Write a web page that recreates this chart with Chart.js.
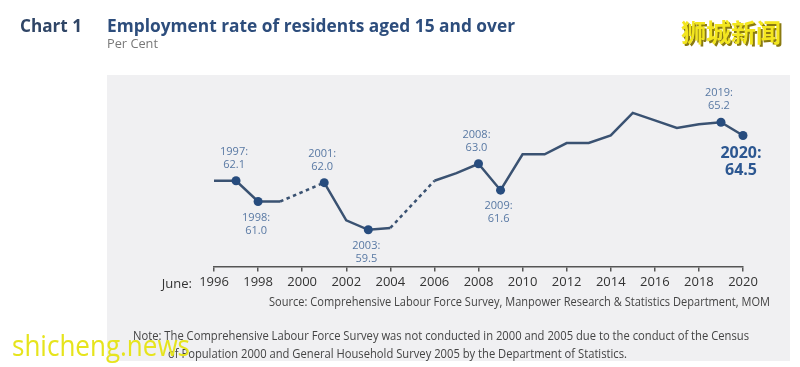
<!DOCTYPE html>
<html>
<head>
<meta charset="utf-8">
<script src="https://cdn.jsdelivr.net/npm/chart.js@4/dist/chart.umd.min.js"></script>
<style>
  html, body { margin: 0; padding: 0; background: #fff; }
  #chart { display: block; }
</style>
</head>
<body>
<canvas id="chart" width="800" height="367"></canvas>
<script>
// survey years (2000 and 2005 were not surveyed)
const years = [1996, 1997, 1998, 1999, 2000, 2001, 2002, 2003, 2004, 2005, 2006, 2007, 2008,
  2009, 2010, 2011, 2012, 2013, 2014, 2015, 2016, 2017, 2018, 2019, 2020];
const employment_rate = [62.1, 62.1, 61.0, 61.0, null, 62.0, 60.0, 59.5, 59.6, null, 62.1, 62.5, 63.0,
  61.6, 63.5, 63.5, 64.1, 64.1, 64.5, 65.7, 65.3, 64.9, 65.1, 65.2, 64.5];

// labelled points
const annotated_years = [1997, 1998, 2001, 2003, 2008, 2009, 2019, 2020];
const annotation_below = [false, true, false, true, false, true, false, true];

const title_text = 'Employment rate of residents aged 15 and over';
const source_text = 'Source: Comprehensive Labour Force Survey, Manpower Research & Statistics Department, MOM';
const note_lines = [
  'Note: The Comprehensive Labour Force Survey was not conducted in 2000 and 2005 due to the conduct of the Census',
  'of Population 2000 and General Household Survey 2005 by the Department of Statistics.'
];

const FONT = '"Open Sans", "Noto Sans", sans-serif';

// draw text squeezed/stretched to a given width
const draw_fit = (ctx, text, x, y, width, font, color) => {
  ctx.save();
  ctx.font = font;
  ctx.fillStyle = color;
  ctx.textAlign = 'left';
  ctx.textBaseline = 'middle';
  const w = ctx.measureText(text).width;
  ctx.translate(x, y);
  ctx.scale(width / w, 1);
  ctx.fillText(text, 0, 0);
  ctx.restore();
};

const chrome_plugin = {
  id: 'chrome',
  beforeDraw: (chart) => {
    const { ctx } = chart;
    ctx.save();
    ctx.fillStyle = '#ffffff';
    ctx.fillRect(0, 0, chart.width, chart.height);
    ctx.fillStyle = '#f0f0f2';
    ctx.fillRect(107, 75, 683, 286);
    ctx.restore();

    draw_fit(ctx, 'Chart 1', 20, 27, 62, `bold 18px ${FONT}`, '#2f4566');
    draw_fit(ctx, title_text, 107, 27, 408, `bold 18px ${FONT}`, '#2d4d7c');
    draw_fit(ctx, 'Per Cent', 107, 45, 51, `12px ${FONT}`, '#777777');
    draw_fit(ctx, source_text, 269, 303, 501, `12px ${FONT}`, '#444444');
    draw_fit(ctx, note_lines[0], 133, 337, 616, `12px ${FONT}`, '#444444');
    draw_fit(ctx, note_lines[1], 168, 355, 459, `12px ${FONT}`, '#444444');
  },
  afterDatasetsDraw: (chart) => {
    const { ctx } = chart;
    const meta = chart.getDatasetMeta(0);
    const x_scale = chart.scales.x;

    // axis prefix
    ctx.save();
    ctx.font = `13px ${FONT}`;
    ctx.fillStyle = '#333333';
    ctx.textAlign = 'right';
    ctx.textBaseline = 'middle';
    ctx.fillText('June:', x_scale.left - 22, 284);
    ctx.restore();

    annotated_years.forEach((year, i) => {
      const idx = years.indexOf(year);
      const pt = meta.data[idx];
      const value = employment_rate[idx].toFixed(1);
      const below = annotation_below[i];
      ctx.save();
      ctx.textAlign = 'center';
      ctx.textBaseline = 'middle';
      if (year === 2020) {
        ctx.font = `bold 16px ${FONT}`;
        ctx.fillStyle = '#2c5791';
        ctx.fillText(`${year}:`, pt.x - 2, pt.y + 18);
        ctx.fillText(value, pt.x - 2, pt.y + 35);
      } else {
        ctx.font = `11px ${FONT}`;
        ctx.fillStyle = '#5878a3';
        const dy = below ? [16, 29] : [-29, -16];
        ctx.fillText(`${year}:`, pt.x - 2, pt.y + dy[0]);
        ctx.fillText(value, pt.x - 2, pt.y + dy[1]);
      }
      ctx.restore();
    });
  },
  afterDraw: (chart) => {
    const { ctx } = chart;
    // site watermarks
    ctx.save();
    ctx.textBaseline = 'middle';
    ctx.font = 'bold 25px "Noto Sans CJK SC"';
    ctx.fillStyle = '#8a7a10';
    ctx.fillText('狮城新闻', 683, 34);
    ctx.fillStyle = '#f3e61e';
    ctx.fillText('狮城新闻', 681, 32);
    ctx.restore();
    draw_fit(ctx, 'shicheng.news', 12, 347, 178, `30px ${FONT}`, '#e6e41c');
  }
};

const skipped = (ctx, value) => (ctx.p0.skip || ctx.p1.skip ? value : undefined);

const chart_data = years.map((year, i) => ({ x: year, y: employment_rate[i] }));

const ctx = document.getElementById('chart').getContext('2d');
const employment_chart = new Chart(ctx, {
  type: 'line',
  data: {
    datasets: [
      {
        data: chart_data,
        borderColor: '#3a5272',
        borderWidth: 2.5,
        spanGaps: true,
        tension: 0,
        clip: false,
        pointRadius: (c) => (annotated_years.includes(years[c.dataIndex]) ? 4.5 : 0),
        pointBackgroundColor: '#274c7e',
        pointBorderColor: '#274c7e',
        pointBorderWidth: 0,
        segment: {
          borderDash: (c) => skipped(c, [3.5, 3.5])
        }
      }
    ]
  },
  options: {
    responsive: false,
    animation: false,
    layout: {
      padding: { left: 214, right: 57, top: 90, bottom: 74 }
    },
    plugins: {
      legend: { display: false },
      tooltip: { enabled: false },
      title: { display: false }
    },
    scales: {
      x: {
        type: 'linear',
        min: 1996,
        max: 2020,
        border: { display: true, color: '#555555', width: 1.5 },
        grid: { drawOnChartArea: false, drawTicks: true, tickLength: 5, color: '#555555', lineWidth: 1.5 },
        ticks: {
          stepSize: 2,
          padding: 3,
          maxRotation: 0,
          autoSkip: false,
          color: '#333333',
          font: { family: FONT, size: 13 },
          callback: (value) => String(value)
        }
      },
      y: {
        display: false,
        min: 57.56,
        max: 66.91
      }
    }
  },
  plugins: [chrome_plugin]
});
</script>
</body>
</html>
